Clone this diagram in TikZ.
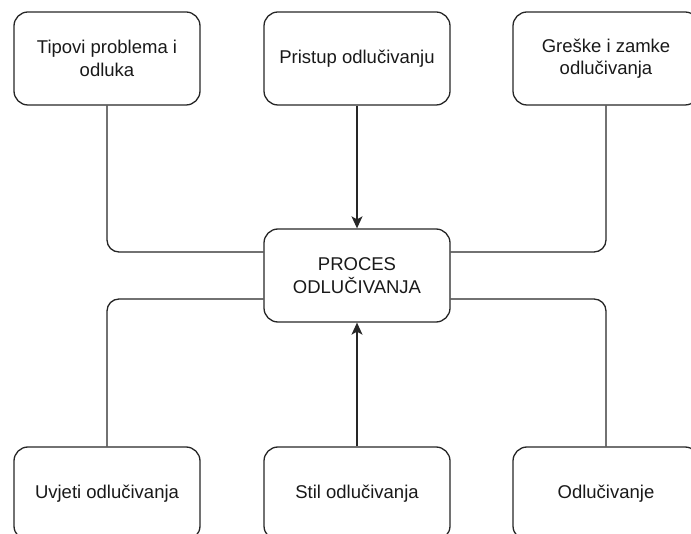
\documentclass[tikz,border=0pt]{standalone}
\usepackage{fontspec}
\setmainfont{Liberation Sans}
\usetikzlibrary{arrows.meta}

\begin{document}
\begin{tikzpicture}[x=1pt,y=-1pt,
    box/.style={draw=black!85,line width=1.3pt,rounded corners=14pt,minimum width=186pt,minimum height=93pt,
        inner sep=0pt,align=center,text=black!90,font=\fontsize{18.5}{22.5}\selectfont},
    link/.style={draw=black!85,line width=1.3pt,rounded corners=12pt},
    arr/.style={link,-{Stealth[length=12pt,width=11pt,inset=3pt]}}]
    \clip (0,0) rectangle (691,534);

    \node[box] (tipovi) at (107,58.5) {Tipovi problema i\\odluka};
    \node[box] (pristup) at (357,58.5) {Pristup odlučivanju};
    \node[box] (greske) at (606,58.5) {Greške i zamke\\odlučivanja};

    \node[box] (proces) at (357,275.5) {PROCES\\ODLUČIVANJA};

    \node[box] (uvjeti) at (107,493.5) {Uvjeti odlučivanja};
    \node[box] (stil) at (357,493.5) {Stil odlučivanja};
    \node[box] (odluc) at (606,493.5) {Odlučivanje};

    \draw[arr] (pristup) -- (proces);
    \draw[arr] (stil) -- (proces);
    \draw[link] (tipovi.south) |- ([yshift=23.5pt]proces.west);
    \draw[link] (greske.south) |- ([yshift=23.5pt]proces.east);
    \draw[link] (uvjeti.north) |- ([yshift=-23.5pt]proces.west);
    \draw[link] (odluc.north) |- ([yshift=-23.5pt]proces.east);
\end{tikzpicture}
\end{document}
